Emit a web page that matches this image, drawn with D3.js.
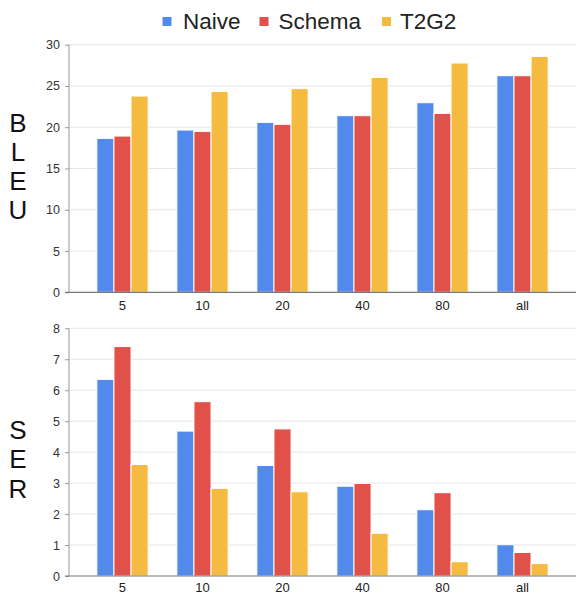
<!DOCTYPE html>
<html><head><meta charset="utf-8">
<script src="https://cdn.jsdelivr.net/npm/d3@7"></script>
<style>
html,body{margin:0;padding:0;background:#fff;}
svg{display:block;}
text{font-family:"Liberation Sans",Arial,Helvetica,sans-serif;}
</style></head>
<body>
<svg id="chart" width="576" height="592"></svg>
<script>
const categories = ["5","10","20","40","80","all"];
const seriesNames = ["Naive","Schema","T2G2"];
const colors = ["#5289ec","#e2504a","#f5bb41"];
const bleuNaive  = [18.65, 19.66, 20.59, 21.4, 22.97, 26.24];
const bleuSchema = [18.93, 19.5, 20.35, 21.4, 21.68, 26.24];
const bleuT2G2   = [23.78, 24.34, 24.67, 26.04, 27.78, 28.58];
const serNaive   = [6.35, 4.68, 3.57, 2.9, 2.14, 1.01];
const serSchema  = [7.41, 5.63, 4.75, 2.99, 2.69, 0.76];
const serT2G2    = [3.6, 2.83, 2.72, 1.38, 0.46, 0.40];
const bleuTicks = [0,5,10,15,20,25,30];
const serTicks  = [0,1,2,3,4,5,6,7,8];

const svg = d3.select("#chart");

// legend
const legendItems = [
  {name: seriesNames[0], sx: 162.5, tx: 183},
  {name: seriesNames[1], sx: 259.5, tx: 278.5},
  {name: seriesNames[2], sx: 382, tx: 400}
];
const lg = svg.append("g");
legendItems.forEach((d,i)=>{
  lg.append("rect").attr("x",d.sx).attr("y",17).attr("width",9).attr("height",9).attr("fill",colors[i]);
  lg.append("text").attr("x",d.tx).attr("y",28.5).attr("font-size",22.5).attr("fill","#222").text(d.name);
});

const x0 = d3.scaleBand().domain(categories).range([69,576]).paddingInner(0.359).paddingOuter(0.348);
const x1 = d3.scaleBand().domain(seriesNames).range([0,x0.bandwidth()]);

function panel(yTop, yBottom, maxV, ticks, data, letters, letterY0, letterStep, xLabelY){
  const y = d3.scaleLinear().domain([0,maxV]).range([yBottom,yTop]);
  const g = svg.append("g");
  // grid
  g.selectAll("line.grid").data(ticks.filter(t=>t>0)).join("line")
    .attr("x1",69).attr("x2",576).attr("y1",d=>y(d)).attr("y2",d=>y(d))
    .attr("stroke","#e6e6e6").attr("stroke-width",1);
  // y axis
  const ya = g.append("g").attr("transform","translate(69,0)")
    .call(d3.axisLeft(y).tickValues(ticks).tickSize(4).tickPadding(5).tickFormat(d3.format("d")));
  ya.select(".domain").attr("stroke","#999").attr("d",`M0,${yTop}V${yBottom}`);
  ya.selectAll(".tick line").attr("stroke","#999");
  ya.selectAll(".tick text").attr("font-size",12.5).attr("fill","#333")
    .attr("font-family","'Liberation Sans',Arial,sans-serif");
  // bars
  const rows = categories.map((c,i)=>({c, vals: data.map(s=>s[i])}));
  const grp = g.selectAll("g.grp").data(rows).join("g").attr("transform",d=>`translate(${x0(d.c)},0)`);
  grp.selectAll("rect").data(d=>d.vals.map((v,j)=>({v, s:seriesNames[j], j}))).join("rect")
    .attr("x",d=>x1(d.s)).attr("width",x1.bandwidth())
    .attr("y",d=>y(d.v)).attr("height",d=>y(0)-y(d.v))
    .attr("fill",d=>colors[d.j]).attr("stroke","#fff").attr("stroke-width",1);
  // x axis baseline
  g.append("line").attr("x1",65).attr("x2",576).attr("y1",yBottom).attr("y2",yBottom)
    .attr("stroke","#777").attr("stroke-width",1.2);
  // x labels
  g.selectAll("text.xl").data(categories).join("text")
    .attr("x",d=>x0(d)+x0.bandwidth()/2).attr("y",xLabelY)
    .attr("text-anchor","middle").attr("font-size",13).attr("fill","#222").text(d=>d);
  // side letters
  letters.split("").forEach((ch,i)=>{
    g.append("text").attr("x",18).attr("y",letterY0+i*letterStep)
      .attr("text-anchor","middle").attr("dominant-baseline","central")
      .attr("font-size",26).attr("fill","#111").text(ch);
  });
}

panel(44.7, 292.3, 30, bleuTicks, [bleuNaive,bleuSchema,bleuT2G2], "BLEU", 122.5, 29, 309.5);
panel(328.3, 576, 8, serTicks, [serNaive,serSchema,serT2G2], "SER", 430, 29.3, 592);
</script>
</body></html>
